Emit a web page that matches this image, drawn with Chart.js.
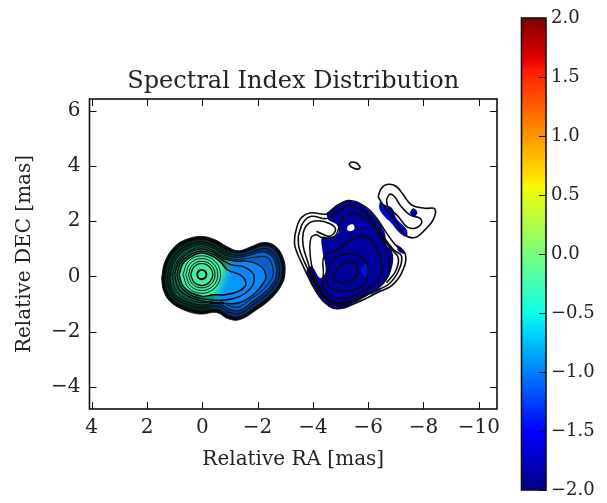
<!DOCTYPE html>
<html>
<head>
<meta charset="utf-8">
<title>Spectral Index Distribution</title>
<script src="https://cdn.jsdelivr.net/npm/chart.js@4"></script>
<style>
  html, body { margin: 0; padding: 0; background: #fff; }
  #mapa { position: absolute; left: 0; top: 0; }
  #barra { position: absolute; left: 500px; top: 0; }
</style>
</head>
<body>
<canvas id="mapa" width="500" height="503"></canvas>
<canvas id="barra" width="107" height="503"></canvas>
<script>
'use strict';

const xTicks = [4, 2, 0, -2, -4, -6, -8, -10];
const yTicks = [-4, -2, 0, 2, 4, 6];
const barTicks = [-2, -1.5, -1, -0.5, 0, 0.5, 1, 1.5, 2];
const barRange = [-2, 2];

// Nucleo + jet (componente izquierda), de afuera hacia adentro
const nucleoBorde = [[1.47,-.06],[1.35,.54],[.99,1.09],[.56,1.35],[.02,1.45],[-.46,1.33],[-.88,1.09],[-1.30,.93],[-1.72,1.06],[-2.21,1.23],[-2.63,1.11],[-2.93,.66],[-2.99,.12],[-2.87,-.30],[-2.51,-.78],[-1.97,-1.20],[-1.36,-1.56],[-.94,-1.53],[-.52,-1.30],[.08,-1.36],[.69,-1.20],[1.17,-.90],[1.41,-.48]];
const nucleoL1 = [[1.37,-.06],[1.25,.50],[.92,1.00],[.52,1.25],[.02,1.35],[-.42,1.23],[-.84,.99],[-1.30,.85],[-1.72,.95],[-2.20,1.12],[-2.56,1.02],[-2.83,.62],[-2.89,.12],[-2.78,-.26],[-2.43,-.71],[-1.91,-1.11],[-1.36,-1.45],[-.97,-1.42],[-.54,-1.19],[.07,-1.25],[.64,-1.10],[1.09,-.83],[1.31,-.44]];
const nucleoL2 = [[1.27,-.05],[1.15,.46],[.85,.92],[.48,1.15],[.02,1.25],[-.38,1.13],[-.80,.89],[-1.30,.77],[-1.72,.86],[-2.18,1.01],[-2.49,.92],[-2.73,.58],[-2.79,.12],[-2.68,-.22],[-2.35,-.64],[-1.85,-1.02],[-1.36,-1.34],[-1.00,-1.31],[-.56,-1.08],[.06,-1.14],[.59,-1.00],[1.01,-.76],[1.21,-.40]];
const nucleoL3 = [[1.17,-.04],[1.06,.42],[.78,.83],[.43,1.05],[.02,1.15],[-.36,1.03],[-.76,.79],[-1.28,.69],[-1.72,.77],[-2.14,.89],[-2.41,.82],[-2.63,.53],[-2.68,.10],[-2.58,-.19],[-2.26,-.57],[-1.78,-.93],[-1.36,-1.22],[-1.02,-1.19],[-.58,-.97],[.05,-1.03],[.54,-.90],[.94,-.68],[1.11,-.36]];
const nucleoL4 = [[1.09,.05],[.96,.44],[.72,.76],[.40,.97],[.02,1.08],[-.36,.95],[-.74,.73],[-1.28,.62],[-1.72,.67],[-2.12,.72],[-2.36,.68],[-2.52,.44],[-2.56,.06],[-2.46,-.17],[-2.18,-.50],[-1.72,-.84],[-1.34,-1.10],[-1.02,-1.08],[-.60,-.88],[.04,-.95],[.50,-.83],[.88,-.62],[1.03,-.33]];
const jetC = [[1.00,.06],[.85,.52],[.45,.88],[.02,1.00],[-.40,.88],[-.76,.66],[-1.20,.56],[-1.72,.54],[-2.15,.34],[-2.30,0],[-2.21,-.24],[-1.84,-.66],[-1.30,-.96],[-.70,-.96],[.02,-.88],[.50,-.72],[.85,-.45]];
const jetB = [[.92,.06],[.78,.50],[.42,.80],[.02,.92],[-.42,.80],[-.72,.60],[-1.06,.42],[-1.48,.36],[-1.84,.10],[-1.86,-.22],[-1.70,-.48],[-1.36,-.72],[-.76,-.86],[.02,-.80],[.48,-.65],[.78,-.38]];
const jetA = [[.84,.06],[.70,.47],[.38,.73],[.02,.85],[-.40,.72],[-.68,.50],[-.91,.24],[-1.42,.02],[-1.57,-.30],[-1.30,-.54],[-.82,-.66],[-.40,-.66],[-.02,-.72],[.42,-.58],[.70,-.34]];
const anillo1 = [[.70,.07],[.50,.55],[.02,.75],[-.46,.55],[-.66,.07],[-.46,-.41],[.02,-.61],[.50,-.41]];
const anillo2 = [[.60,.07],[.43,.48],[.02,.65],[-.39,.48],[-.56,.07],[-.39,-.34],[.02,-.51],[.43,-.34]];
const anillo3 = [[.50,.07],[.36,.41],[.02,.55],[-.32,.41],[-.46,.07],[-.32,-.27],[.02,-.41],[.36,-.27]];
const anillo4 = [[.42,.07],[.30,.35],[.02,.47],[-.26,.35],[-.38,.07],[-.26,-.21],[.02,-.33],[.30,-.21]];
const anillo5 = [[.19,.07],[.14,.19],[.02,.24],[-.10,.19],[-.15,.07],[-.10,-.05],[.02,-.10],[.14,-.05]];

// Componente derecha
const zonaAzul = [[-4.50,2.30],[-4.98,2.66],[-5.46,2.72],[-5.88,2.52],[-6.30,2.08],[-6.60,1.58],[-6.66,1.16],[-6.87,.91],[-6.87,.37],[-6.60,-.23],[-6.12,-.59],[-5.40,-1.01],[-4.80,-1.17],[-4.38,-.93],[-4.07,-.47],[-3.77,.19],[-3.95,.37],[-4.26,-.05],[-4.46,.19],[-4.34,.98],[-4.34,1.43],[-4.62,1.40],[-4.92,1.58],[-4.86,1.88],[-4.56,2.06]];
const huecoBlanco = [[-5.22,1.70],[-5.28,1.84],[-5.46,1.88],[-5.50,1.72],[-5.34,1.64]];
const parcheDer = [[-7.03,1.16],[-7.27,.98],[-7.30,.83],[-7.09,.92]];
const parcheTira = [[-6.42,2.71],[-6.63,2.59],[-6.87,2.47],[-7.02,2.11],[-7.39,1.69],[-7.39,1.45],[-7.15,1.57],[-6.84,1.93],[-6.54,2.23],[-6.40,2.47]];
const parchePunto = [[-7.50,2.31],[-7.63,2.47],[-7.78,2.31],[-7.63,2.16]];
const manchaClara = [[-5.70,.25],[-5.90,.45],[-6.05,.20],[-5.90,-.02]];
const manchaCian = [[-6.00,-.55],[-6.35,-.40],[-6.45,-.52],[-6.15,-.66]];
const derW1 = [[-3.35,1.52],[-3.53,2.06],[-3.89,2.30],[-4.50,2.26],[-4.80,2.48],[-5.28,2.75],[-5.88,2.54],[-6.30,2.12],[-6.66,1.58],[-6.97,1.16],[-7.35,.79],[-7.21,.13],[-6.85,-.33],[-6.36,-.57],[-5.58,-.95],[-4.86,-1.17],[-4.38,-.89],[-4.07,-.47],[-3.65,.37],[-3.35,1.10]];
const derW2 = [[-3.47,1.46],[-3.65,1.96],[-3.95,2.18],[-4.50,2.10],[-4.86,2.30],[-5.34,2.57],[-5.82,2.36],[-6.18,2.00],[-6.54,1.46],[-6.91,.98],[-7.21,.73],[-7.09,.19],[-6.73,-.29],[-6.24,-.53],[-5.52,-.86],[-4.86,-1.05],[-4.44,-.77],[-4.13,-.35],[-3.74,.43],[-3.50,1.03]];
const derW3 = [[-4.32,-.47],[-4.01,-.05],[-3.81,.55],[-3.65,1.10],[-3.65,1.58],[-3.83,1.91],[-4.19,2.02],[-4.62,1.91],[-4.82,1.70],[-4.62,1.46],[-4.32,1.55],[-4.13,1.64]];
const derW3b = [[-6.60,1.28],[-6.85,.98],[-7.09,.67],[-6.99,.19],[-6.66,-.23]];
const derI4 = [[-4.13,1.52],[-4.38,1.40],[-4.80,1.46],[-4.98,1.88],[-5.22,2.24],[-5.82,2.18],[-6.30,1.70],[-6.66,.98],[-6.79,.37],[-6.60,-.17],[-6.00,-.59],[-5.34,-.89],[-4.74,-.93],[-4.32,-.59],[-4.13,-.17],[-3.95,.43],[-3.89,1.03],[-3.95,1.43]];
const derI3 = [[-4.38,.13],[-4.41,.73],[-4.92,.98],[-5.40,1.34],[-5.82,1.48],[-6.24,1.16],[-6.48,.49],[-6.42,-.05],[-5.88,-.47],[-5.28,-.77],[-4.68,-.71],[-4.38,-.35]];
const derI2 = [[-4.50,.07],[-4.74,.61],[-5.34,.83],[-5.88,.61],[-6.00,.25],[-5.88,-.23],[-5.34,-.53],[-4.74,-.45],[-4.50,-.23]];
const derI1 = [[-4.74,.07],[-5.04,.43],[-5.46,.52],[-5.64,.31],[-5.52,-.05],[-5.10,-.23],[-4.86,-.17]];
const arribaU1 = [[-6.36,2.89],[-6.48,3.20],[-6.72,3.34],[-7.02,3.26],[-7.27,2.96],[-7.57,2.59],[-8.05,2.47],[-8.41,2.45],[-8.35,2.05],[-8.05,1.69],[-7.69,1.41],[-7.33,1.51],[-6.96,2.05],[-6.54,2.59]];
const arribaU2 = [[-6.66,2.77],[-6.78,2.98],[-6.96,2.89],[-7.15,2.59],[-7.51,2.23],[-7.87,2.11],[-7.93,1.93],[-7.69,1.75],[-7.39,1.81],[-7.09,2.17],[-6.72,2.53]];
const ovalo = [[-5.72,3.96],[-5.58,4.11],[-5.38,4.14],[-5.32,4.05],[-5.46,3.93],[-5.64,3.89]];

const fuente = 'DejaVu Serif, serif';
const colorTexto = '#222';

function cerrar(lista) {
  return lista.concat([lista[0]]).map(p => ({ x: p[0], y: p[1] }));
}
function abierta(lista) {
  return lista.map(p => ({ x: p[0], y: p[1] }));
}

// Degradado verde -> azul en diagonal, como en el nucleo del mapa
function degradado(verde, teal, azul) {
  return (c) => {
    const { x, y } = c.chart.scales;
    if (!x || !y) return azul;
    const x0 = x.getPixelForValue(0), y0 = y.getPixelForValue(0.2);
    const x1 = x.getPixelForValue(-1.3), y1 = y.getPixelForValue(-0.3);
    if (![x0, y0, x1, y1].every(Number.isFinite)) return azul;
    const g = c.chart.ctx.createLinearGradient(x0, y0, x1, y1);
    g.addColorStop(0, verde);
    g.addColorStop(0.45, verde);
    g.addColorStop(0.6, teal);
    g.addColorStop(0.75, azul);
    g.addColorStop(1, azul);
    return g;
  };
}

function relleno(lista, color) {
  return { data: cerrar(lista), backgroundColor: color, fill: 'shape', borderWidth: 0, borderColor: 'transparent', tension: 0.4 };
}
function linea(lista, ancho, esAbierta) {
  return { data: esAbierta ? abierta(lista) : cerrar(lista), borderColor: '#0a0a0a', borderWidth: ancho, fill: false, tension: 0.4 };
}

const capas = [
  relleno(nucleoBorde, '#020c0a'),
  relleno(nucleoL1, degradado('#062c20', '#063344', '#08306c')),
  relleno(nucleoL3, degradado('#0e5a42', '#0d6f84', '#0a60c4')),
  relleno(jetC, degradado('#1a8a62', '#1598b4', '#0a88f8')),
  relleno(jetA, degradado('#42ee9c', '#18c0d0', '#0a96ff')),
  linea(nucleoBorde, 0.9),
  linea(nucleoL1, 0.9),
  linea(nucleoL2, 0.9),
  linea(nucleoL3, 0.9),
  linea(nucleoL4, 0.9),
  linea(jetC, 1.3),
  linea(jetB, 1.4),
  linea(jetA, 1.5),
  linea(anillo1, 0.9),
  linea(anillo2, 0.9),
  linea(anillo3, 1.0),
  linea(anillo4, 1.2),
  linea(anillo5, 1.9),
  relleno(zonaAzul, '#00009c'),
  relleno(manchaClara, '#0014d8'),
  relleno(manchaCian, '#0a50c0'),
  relleno(huecoBlanco, '#ffffff'),
  relleno(parcheDer, '#0000b8'),
  relleno(parcheTira, '#0008c0'),
  relleno(parchePunto, '#00009c'),
  linea(derW1, 1.6),
  linea(derW2, 1.6),
  linea(derW3, 1.6, true),
  linea(derW3b, 1.6, true),
  linea(derI4, 1.5),
  linea(derI3, 1.5),
  linea(derI2, 1.5),
  linea(derI1, 1.5),
  linea(arribaU1, 1.6),
  linea(arribaU2, 1.6),
  linea(ovalo, 1.6)
];
// Chart.js pinta el ultimo dataset primero: order negativo para respetar la lista
capas.forEach((d, i) => { d.order = -i; d.showLine = true; d.pointRadius = 0; });

function etiqueta(valor, dec) {
  const txt = Math.abs(valor).toFixed(dec);
  return valor < 0 ? '\u2212' + txt : txt;
}

// Sin margenes extra por las etiquetas de los extremos
function sinMargen(s) {
  s.paddingLeft = 0; s.paddingRight = 0; s.paddingTop = 0; s.paddingBottom = 0;
}

// Marco y ticks hacia adentro
const marcoMapa = {
  id: 'marcoMapa',
  afterDraw(chart) {
    const { ctx, chartArea: a, scales } = chart;
    ctx.save();
    ctx.strokeStyle = '#111';
    ctx.lineWidth = 1;
    ctx.beginPath();
    xTicks.forEach(v => {
      const p = Math.round(scales.x.getPixelForValue(v)) + 0.5;
      ctx.moveTo(p, a.bottom); ctx.lineTo(p, a.bottom - 7);
      ctx.moveTo(p, a.top); ctx.lineTo(p, a.top + 7);
    });
    yTicks.forEach(v => {
      const p = Math.round(scales.y.getPixelForValue(v)) + 0.5;
      ctx.moveTo(a.left, p); ctx.lineTo(a.left + 7, p);
      ctx.moveTo(a.right, p); ctx.lineTo(a.right - 7, p);
    });
    ctx.stroke();
    ctx.lineWidth = 1.6;
    ctx.strokeRect(a.left, a.top, a.right - a.left, a.bottom - a.top);
    ctx.restore();
  }
};

const marcoBarra = {
  id: 'marcoBarra',
  afterDraw(chart) {
    const { ctx, chartArea: a, scales } = chart;
    ctx.save();
    ctx.strokeStyle = '#111';
    ctx.lineWidth = 1;
    ctx.beginPath();
    barTicks.forEach(v => {
      const p = Math.round(scales.y.getPixelForValue(v)) + 0.5;
      ctx.moveTo(a.right, p); ctx.lineTo(a.right - 7, p);
    });
    ctx.stroke();
    ctx.lineWidth = 1.6;
    ctx.strokeRect(a.left, a.top, a.right - a.left, a.bottom - a.top);
    ctx.restore();
  }
};

const mapa = new Chart(document.getElementById('mapa'), {
  type: 'scatter',
  data: { datasets: capas },
  options: {
    responsive: false,
    animation: false,
    layout: { padding: { left: 0, right: 3, top: 0, bottom: 31 } },
    plugins: {
      legend: { display: false },
      tooltip: { enabled: false },
      title: {
        display: true,
        fullSize: false,
        text: 'Spectral Index Distribution',
        color: colorTexto,
        font: { family: fuente, size: 24, weight: 'normal', lineHeight: 1.2 },
        padding: { top: 67.2, bottom: 3 }
      }
    },
    scales: {
      x: {
        type: 'linear',
        reverse: true,
        min: -10.66,
        max: 4.08,
        afterBuildTicks: s => { s.ticks = xTicks.map(v => ({ value: v })); },
        afterFit: s => { s.height = 63; sinMargen(s); },
        border: { display: false },
        grid: { drawOnChartArea: false, drawTicks: false },
        ticks: {
          autoSkip: false, maxRotation: 0, padding: 7, color: colorTexto,
          font: { family: fuente, size: 20 },
          callback: v => etiqueta(v, 0)
        },
        title: {
          display: true, text: 'Relative RA [mas]', color: colorTexto,
          font: { family: fuente, size: 20, weight: 'normal', lineHeight: 1.2 },
          padding: { top: 0, bottom: 0 }
        }
      },
      y: {
        type: 'linear',
        min: -4.8,
        max: 6.43,
        afterBuildTicks: s => { s.ticks = yTicks.map(v => ({ value: v })); },
        afterFit: s => { s.width = 89.5; sinMargen(s); },
        border: { display: false },
        grid: { drawOnChartArea: false, drawTicks: false },
        ticks: {
          autoSkip: false, padding: 9, color: colorTexto,
          font: { family: fuente, size: 20 },
          callback: v => etiqueta(v, 0)
        },
        title: {
          display: true, text: 'Relative DEC [mas]', color: colorTexto,
          font: { family: fuente, size: 20, weight: 'normal', lineHeight: 1.2 },
          padding: { top: 13, bottom: 0 }
        }
      }
    }
  },
  plugins: [marcoMapa]
});
// Segunda pasada: los degradados necesitan las escalas ya medidas
mapa.update();

// Colormap jet sobre el rango de la barra
const jetPosiciones = [0, 0.11, 0.125, 0.35, 0.375, 0.64, 0.66, 0.89, 0.91, 1];
const jetColores = ['#00007f', '#0000f5', '#0000ff', '#00e5f7', '#0dffe8', '#f1fc06', '#ffe500', '#ff1a00', '#e80000', '#7f0000'];

const barra = new Chart(document.getElementById('barra'), {
  type: 'bar',
  data: {
    labels: ['indice'],
    datasets: [{
      data: [barRange],
      barPercentage: 1,
      categoryPercentage: 1,
      borderWidth: 0,
      backgroundColor: (c) => {
        const a = c.chart.chartArea;
        if (!a || !Number.isFinite(a.top) || !Number.isFinite(a.bottom)) return '#0000ff';
        const g = c.chart.ctx.createLinearGradient(0, a.bottom, 0, a.top);
        jetPosiciones.forEach((p, i) => g.addColorStop(p, jetColores[i]));
        return g;
      }
    }]
  },
  options: {
    responsive: false,
    animation: false,
    layout: { padding: { left: 21.5, right: 0, top: 18, bottom: 13 } },
    plugins: { legend: { display: false }, tooltip: { enabled: false } },
    scales: {
      x: { display: false },
      y: {
        position: 'right',
        min: barRange[0],
        max: barRange[1],
        afterBuildTicks: s => { s.ticks = barTicks.map(v => ({ value: v })); },
        afterFit: s => { s.width = 61; sinMargen(s); },
        border: { display: false },
        grid: { drawOnChartArea: false, drawTicks: false },
        ticks: {
          autoSkip: false, padding: 5, color: colorTexto,
          font: { family: fuente, size: 18 },
          callback: v => etiqueta(v, 1)
        }
      }
    }
  },
  plugins: [marcoBarra]
});
barra.update();
</script>
</body>
</html>
